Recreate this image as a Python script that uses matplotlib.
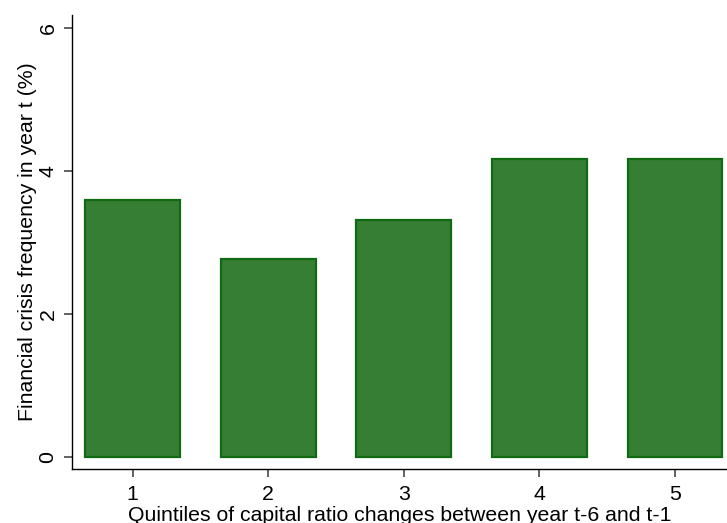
import matplotlib
matplotlib.use("Agg")
import matplotlib.pyplot as plt

# Crisis frequency by quintile of capital ratio change
quintiles = [1, 2, 3, 4, 5]
crisis_freq = [3.59, 2.77, 3.31, 4.16, 4.16]
y_ticks = [0, 2, 4, 6]

plt.rcParams['font.family'] = ['Liberation Sans', 'DejaVu Sans']

W, H = 727, 523
fig = plt.figure(figsize=(W / 100, H / 100), dpi=100)
ax = fig.add_axes([72 / W, (H - 469) / H, (W - 72) / W, (469 - 15) / H])

ax.bar(quintiles, crisis_freq, width=0.70, color='#377e35',
       edgecolor='#0f6a12', linewidth=1.6, zorder=2)

ax.set_xlim(0.552, 5.384)
ax.set_ylim(-0.172, 6.178)
ax.set_xticks(quintiles)
ax.set_yticks(y_ticks)
ax.set_yticklabels([str(v) for v in y_ticks], rotation=90, va='center')

for s in ['top', 'right']:
    ax.spines[s].set_visible(False)
for s in ['left', 'bottom']:
    ax.spines[s].set_color('black')
    ax.spines[s].set_linewidth(1.0)

ax.tick_params(axis='both', direction='out', length=6, width=1.3,
               color='#555555', labelsize=15.3)
ax.tick_params(axis='y', pad=4.5)
ax.tick_params(axis='x', pad=5.5)

ax.set_ylabel('Financial crisis frequency in year t (%)', fontsize=15.3)
ax.set_xlabel('Quintiles of capital ratio changes between year t-6 and t-1',
              fontsize=15.3)
ax.yaxis.set_label_coords(-0.0527, 0.5)
ax.xaxis.set_label_coords(0.5, -0.0815)

fig.savefig('out.png', dpi=100)
